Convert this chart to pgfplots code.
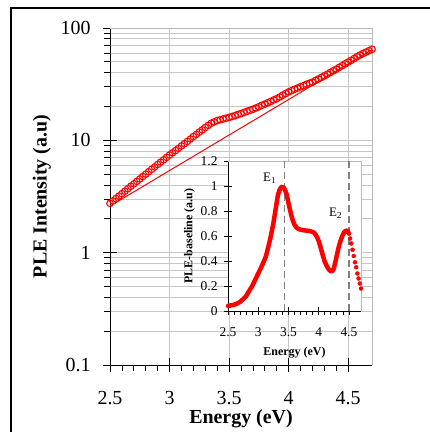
\documentclass[border=0pt]{standalone}
\usepackage{fontspec}
\setmainfont{Liberation Serif}
\usepackage{pgfplots}
\pgfplotsset{compat=1.18}
\usepackage{pgfplotstable}

% main PLE curve (open circles)
\pgfplotstableread{
E I
2.500 2.75
2.525 2.89
2.550 3.03
2.575 3.19
2.600 3.35
2.625 3.52
2.650 3.71
2.675 3.90
2.700 4.10
2.725 4.31
2.750 4.53
2.775 4.76
2.800 5.00
2.825 5.26
2.850 5.52
2.875 5.80
2.900 6.10
2.925 6.40
2.950 6.71
2.975 7.05
3.000 7.40
3.025 7.74
3.050 8.11
3.075 8.49
3.100 8.90
3.125 9.33
3.150 9.79
3.175 10.28
3.200 10.8
3.225 11.3
3.250 11.85
3.275 12.4
3.300 13.0
3.325 13.6
3.350 14.2
3.375 14.6
3.400 15.0
3.425 15.25
3.450 15.5
3.475 15.75
3.500 16.0
3.525 16.3
3.550 16.6
3.575 17.0
3.600 17.3
3.625 17.7
3.650 18.1
3.675 18.5
3.700 18.9
3.725 19.4
3.750 19.9
3.775 20.5
3.800 21.0
3.825 21.6
3.850 22.2
3.875 22.9
3.900 23.5
3.925 24.3
3.950 25.2
3.975 26.1
4.000 27.0
4.025 27.7
4.050 28.5
4.075 29.2
4.100 30.0
4.125 30.7
4.150 31.5
4.175 32.2
4.200 33.0
4.225 34.1
4.250 35.2
4.275 36.3
4.300 37.5
4.325 38.8
4.350 40.2
4.375 41.6
4.400 43.0
4.425 44.6
4.450 46.2
4.475 48.0
4.500 49.7
4.525 51.5
4.550 53.5
4.575 55.5
4.600 57.5
4.625 59.3
4.650 61.0
4.675 62.8
4.700 64.6
}\plemain

% inset: PLE minus baseline
\pgfplotstableread{
E y
2.500 0.040
2.525 0.042
2.550 0.045
2.575 0.047
2.600 0.050
2.625 0.055
2.650 0.060
2.675 0.066
2.700 0.073
2.725 0.084
2.750 0.095
2.775 0.107
2.800 0.120
2.825 0.140
2.850 0.160
2.875 0.180
2.900 0.200
2.925 0.225
2.950 0.250
2.975 0.275
3.000 0.300
3.025 0.325
3.050 0.350
3.075 0.377
3.100 0.405
3.125 0.434
3.150 0.480
3.175 0.530
3.200 0.580
3.225 0.640
3.250 0.700
3.275 0.775
3.300 0.850
3.325 0.925
3.350 0.965
3.375 0.988
3.400 0.995
3.425 0.985
3.450 0.960
3.475 0.925
3.500 0.865
3.525 0.810
3.550 0.760
3.575 0.720
3.600 0.690
3.625 0.672
3.650 0.660
3.675 0.655
3.700 0.650
3.750 0.646
3.800 0.643
3.850 0.640
3.900 0.632
3.925 0.625
3.950 0.610
3.975 0.590
4.000 0.560
4.025 0.520
4.050 0.478
4.075 0.432
4.100 0.395
4.125 0.368
4.150 0.345
4.175 0.328
4.200 0.318
4.225 0.318
4.250 0.340
4.275 0.390
4.300 0.445
4.325 0.500
4.350 0.545
4.375 0.580
4.400 0.610
4.425 0.632
4.450 0.643
4.475 0.640
4.500 0.620
}\pleinset

\pgfplotstableread{
E y
4.48 0.640
4.50 0.620
4.52 0.580
4.54 0.540
4.56 0.490
4.58 0.440
4.60 0.390
4.62 0.350
4.64 0.300
4.66 0.260
4.68 0.220
4.70 0.180
}\pletail

\begin{document}
\begin{tikzpicture}
\useasboundingbox (0,0) rectangle (430bp,432bp);
\clip (0,0) rectangle (430bp,432bp);
\draw[line width=1.2bp] (11bp,-10bp) -- (11bp,424bp) -- (445bp,424bp);

\begin{semilogyaxis}[
    scale only axis,
    width=262bp, height=337bp,
    at={(110bp,67bp)}, anchor=south west,
    xmin=2.5, xmax=4.7,
    ymin=0.1, ymax=100,
    axis x line*=bottom, axis y line*=left,
    axis line style={-, line width=0.9bp, black},
    xtick={2.5,3,3.5,4,4.5},
    xticklabels={2.5,3,3.5,4,4.5},
    minor x tick num=4,
    ytick={0.1,1,10,100},
    yticklabels={0.1,1,10,100},
    tick align=outside,
    major tick length=14bp,
    minor tick length=6bp,
    major x tick style={yshift=7bp},
    major y tick style={xshift=7bp},
    tick style={black, line width=0.8bp},
    xmajorgrids, ymajorgrids, yminorgrids,
    grid style={gray!45, line width=0.8bp},
    tick label style={font=\fontsize{20}{20}\selectfont},
    xticklabel style={anchor=center, yshift=-19bp},
    yticklabel style={anchor=east, xshift=-2bp},
    xlabel={\textbf{Energy (eV)}},
    ylabel={\textbf{PLE Intensity (a.u)}},
    label style={font=\fontsize{20}{20}\selectfont},
    xlabel style={at={(axis description cs:0.5,-0.161)}, anchor=center},
    ylabel style={at={(axis description cs:-0.26,0.5)}, anchor=center},
    clip=false,
]
\draw[gray!55, line width=0.8bp] (rel axis cs:0,1) -- (rel axis cs:1,1) -- (rel axis cs:1,0);
\addplot[red, only marks, mark=o, mark size=3.3bp, mark options={line width=1.1bp}] table[x=E, y=I] {\plemain};
\addplot[red, line width=1bp] coordinates {(2.5,2.6) (4.7,64)};
\end{semilogyaxis}

\begin{axis}[
    scale only axis,
    width=133bp, height=150bp,
    at={(228bp,121bp)}, anchor=south west,
    xmin=2.5, xmax=4.7,
    ymin=0, ymax=1.2,
    axis background/.style={fill=white},
    axis x line*=bottom, axis y line*=left,
    axis line style={-, line width=0.9bp, black},
    xtick={2.5,3,3.5,4,4.5},
    xticklabels={2.5,3,3.5,4,4.5},
    minor x tick num=4,
    ytick={0,0.2,0.4,0.6,0.8,1,1.2},
    yticklabels={0,0.2,0.4,0.6,0.8,1,1.2},
    tick align=outside,
    major tick length=8bp,
    minor tick length=4bp,
    major x tick style={yshift=4bp},
    major y tick style={xshift=4bp},
    tick style={black, line width=0.7bp},
    tick label style={font=\fontsize{13.5}{13.5}\selectfont},
    xticklabel style={anchor=center, yshift=-13bp},
    yticklabel style={anchor=east, xshift=1bp},
    xlabel={\textbf{Energy (eV)}},
    ylabel={\textbf{PLE-baseline (a.u)}},
    label style={font=\fontsize{12}{12}\selectfont},
    xlabel style={at={(axis description cs:0.5,-0.28)}, anchor=center},
    ylabel style={at={(axis description cs:-0.29,0.5)}, anchor=center},
    clip=false,
]
\draw[gray!55, line width=0.8bp] (rel axis cs:0,1) -- (rel axis cs:1,1) -- (rel axis cs:1,0);
\draw[gray, dashed, line width=1.3bp, dash pattern=on 7bp off 4bp] (axis cs:3.43,0) -- (axis cs:3.43,1.2);
\draw[gray, dashed, line width=1.3bp, dash pattern=on 7bp off 4bp] (axis cs:4.5,0) -- (axis cs:4.5,1.2);
\addplot[red, line width=4.5bp, line join=round, line cap=round] table[x=E, y=y] {\pleinset};
\addplot[red, only marks, mark=*, mark size=2bp] table[x=E, y=y] {\pletail};
\node[font=\fontsize{13}{13}\selectfont] at (axis cs:3.19,1.06) {E\textsubscript{1}};
\node[font=\fontsize{13}{13}\selectfont] at (axis cs:4.28,0.78) {E\textsubscript{2}};
\end{axis}
\end{tikzpicture}
\end{document}
